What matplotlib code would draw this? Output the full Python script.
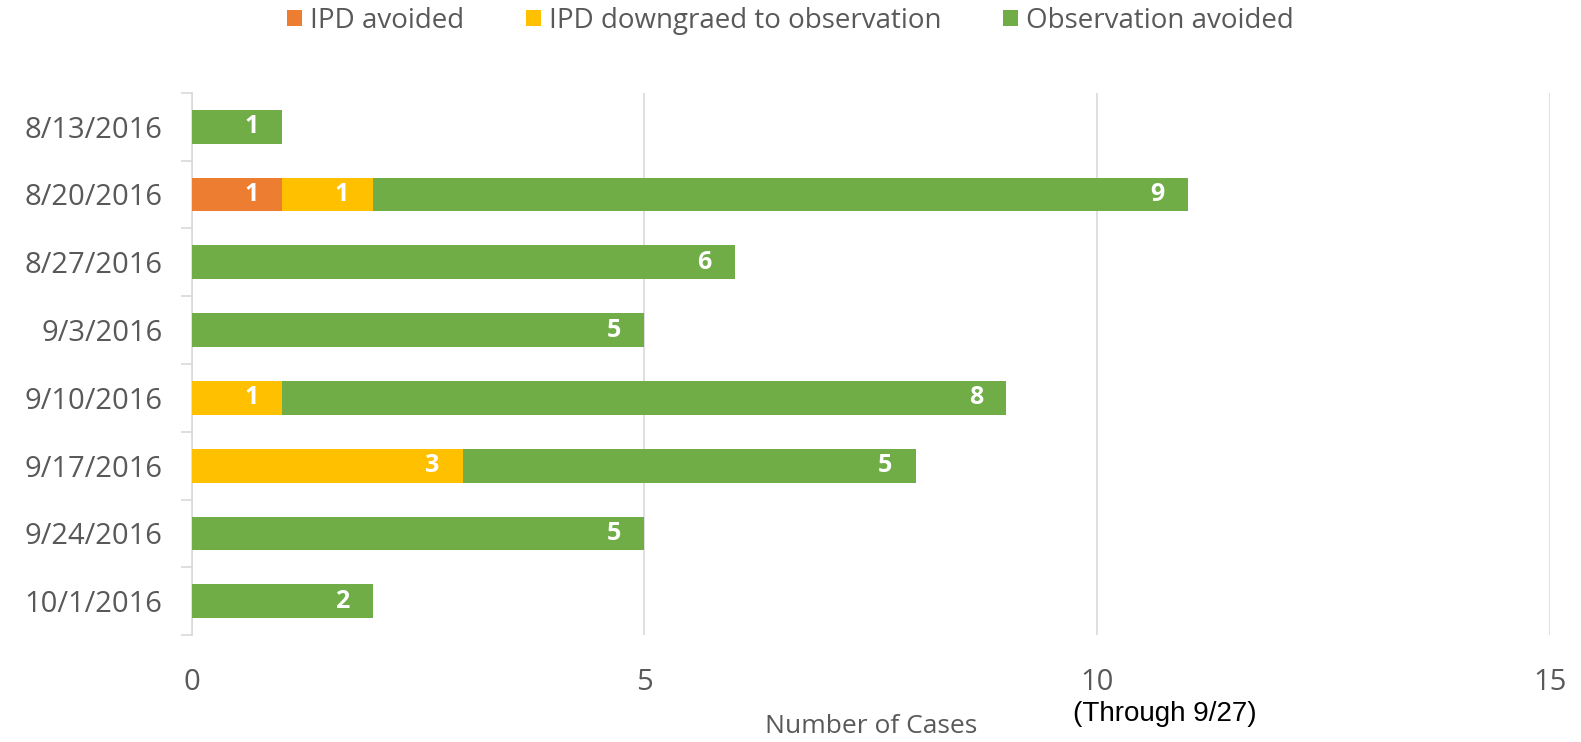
import matplotlib.pyplot as plt
import numpy as np

dates = ["8/13/2016", "8/20/2016", "8/27/2016", "9/3/2016",
         "9/10/2016", "9/17/2016", "9/24/2016", "10/1/2016"]
ipd_avoided = [0, 1, 0, 0, 0, 0, 0, 0]
ipd_downgraded = [0, 1, 0, 0, 1, 3, 0, 0]
obs_avoided = [1, 9, 6, 5, 8, 5, 5, 2]

series_names = ["IPD avoided", "IPD downgraed to observation", "Observation avoided"]
colors = ["#ED7D31", "#FFC000", "#70AD47"]
gray = "#595959"
font = "Open Sans"

fig = plt.figure(figsize=(15.81, 7.42), dpi=100)
ax = fig.add_axes([0.1212, 0.144, 0.859, 0.731])

y = np.arange(len(dates))
left = np.zeros(len(dates))
for vals, name, c in zip([ipd_avoided, ipd_downgraded, obs_avoided], series_names, colors):
    vals = np.array(vals, dtype=float)
    bars = ax.barh(y, vals, left=left, height=0.5, color=c, label=name, zorder=3)
    for b, v in zip(bars, vals):
        if v > 0:
            ax.annotate(f"{int(v)}", (b.get_x() + b.get_width(), b.get_y() + b.get_height() / 2),
                        xytext=(-22, 0), textcoords="offset points", ha="center", va="center",
                        color="white", fontsize=18, fontweight="bold", family=font)
    left += vals

ax.set_xlim(0, 15)
ax.set_ylim(len(dates) - 0.5, -0.5)
ax.set_xticks([0, 5, 10, 15])
ax.set_yticks(y)
ax.set_yticklabels(dates)
ax.set_yticks(np.arange(-0.5, len(dates), 1), minor=True)
ax.grid(axis="x", color="#D9D9D9", linewidth=1.2, zorder=0)

for s in ["top", "right", "bottom"]:
    ax.spines[s].set_visible(False)
ax.spines["left"].set_color("#D9D9D9")
ax.spines["left"].set_linewidth(1.2)

ax.tick_params(axis="y", which="major", length=0, pad=21, labelsize=21, labelcolor=gray)
ax.tick_params(axis="y", which="minor", length=8, color="#D9D9D9", width=1.2)
ax.tick_params(axis="x", length=0, pad=24, labelsize=21, labelcolor=gray)
for lbl in ax.get_xticklabels() + ax.get_yticklabels():
    lbl.set_family(font)

ax.set_xlabel("Number of Cases", fontsize=19, color=gray, family=font, va="center")
ax.xaxis.set_label_coords(0.5, -0.168)

fig.text(0.679, 0.038, "(Through 9/27)", fontsize=20, family="Liberation Sans",
         color="black", va="center")

fig.legend(loc="center", bbox_to_anchor=(0.5, 0.972), ncol=3, frameon=False,
           prop={"family": font, "size": 20}, handlelength=0.55, handleheight=0.55,
           handletextpad=0.3, columnspacing=2.2, labelcolor=gray)

fig.savefig("out.png", dpi=100)
